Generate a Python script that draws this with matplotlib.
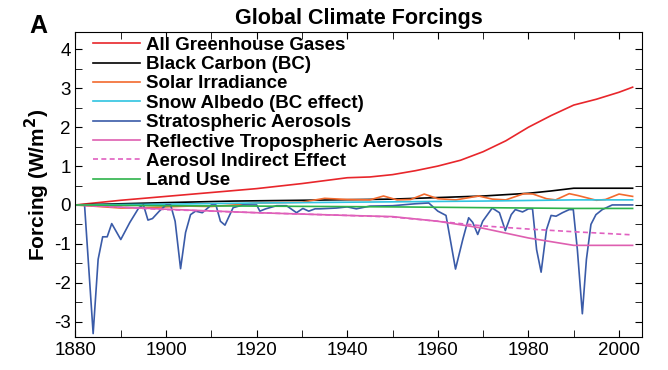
import matplotlib.pyplot as plt
from matplotlib.ticker import MultipleLocator

plt.rcParams['font.family'] = ['Liberation Sans', 'DejaVu Sans']
plt.rcParams['axes.unicode_minus'] = False

# ---- data ----
ghg_years = [1880, 1890, 1900, 1910, 1920, 1930, 1940, 1945, 1950, 1955, 1960, 1965, 1970,
             1975, 1980, 1985, 1990, 1995, 2000, 2003]
ghg_vals = [0.0, 0.12, 0.22, 0.32, 0.42, 0.55, 0.70, 0.72, 0.78, 0.88, 1.0, 1.15, 1.37,
            1.65, 2.0, 2.3, 2.57, 2.72, 2.9, 3.03]

bc_years = [1880, 1900, 1915, 1930, 1950, 1960, 1970, 1980, 1985, 1990, 2003]
bc_vals = [0.0, 0.06, 0.10, 0.12, 0.15, 0.19, 0.23, 0.30, 0.36, 0.43, 0.43]

sol_years = [1880, 1885, 1890, 1895, 1900, 1905, 1910, 1915, 1920, 1925, 1930, 1935, 1940,
             1945, 1948, 1951, 1954, 1957, 1960, 1964, 1969, 1972, 1975, 1979, 1981, 1984,
             1986, 1989, 1991, 1995, 1997, 2000, 2003]
sol_vals = [0.0, -0.04, -0.08, -0.07, -0.05, -0.03, -0.04, 0.0, 0.05, 0.06, 0.07, 0.17, 0.14,
            0.13, 0.23, 0.13, 0.14, 0.28, 0.16, 0.13, 0.23, 0.15, 0.13, 0.29, 0.28, 0.16,
            0.13, 0.29, 0.24, 0.12, 0.14, 0.28, 0.22]

snow_years = [1880, 1900, 1920, 1950, 1970, 1990, 2003]
snow_vals = [0.0, 0.02, 0.05, 0.08, 0.10, 0.13, 0.13]

land_years = [1880, 1900, 1920, 1950, 1970, 1990, 2003]
land_vals = [0.0, -0.02, -0.03, -0.05, -0.07, -0.09, -0.09]

strat_years = [1880, 1882, 1883.9, 1885, 1886, 1887, 1888, 1890, 1892, 1894, 1895, 1896, 1897,
               1898.5, 1900, 1901, 1902, 1903.2, 1904.3, 1905.4, 1906.5, 1908, 1909.3, 1910,
               1911, 1912, 1913, 1914.8, 1917, 1920, 1920.7, 1922, 1924.4, 1926.6, 1928.8,
               1930.2, 1931.5, 1932.9, 1934, 1937.6, 1940, 1942, 1945, 1950, 1955, 1958,
               1960, 1961.8, 1963.9, 1965.5, 1966.8, 1967.7, 1968.8, 1969.9, 1972, 1973.6,
               1974.9, 1976.2, 1977.1, 1978.7, 1980, 1980.9, 1981.8, 1982.8, 1984, 1985,
               1986.1, 1987.5, 1989, 1989.9, 1990.8, 1991.9, 1992.8, 1993.8, 1994.9, 1996.3,
               1998.5, 2003]
strat_vals = [0.0, 0.0, -3.31, -1.4, -0.82, -0.82, -0.48, -0.89, -0.45, -0.07, 0.0, -0.39, -0.35,
              -0.16, 0.0, 0.0, -0.42, -1.64, -0.71, -0.25, -0.16, -0.2, -0.07, 0.0,
              0.0, -0.42, -0.52, -0.07, 0.0, 0.0, -0.16, -0.1, -0.02, -0.02, -0.2,
              -0.09, -0.16, -0.1, -0.1, -0.08, -0.05, -0.1, -0.03, -0.02, 0.03, 0.05,
              -0.16, -0.27, -1.65, -0.89, -0.33, -0.45, -0.76, -0.42, -0.08, -0.2,
              -0.66, -0.25, -0.12, -0.18, -0.1, -0.1, -1.15, -1.73, -0.63, -0.27,
              -0.29, -0.2, -0.12, -0.12, -1.15, -2.8, -1.4, -0.5, -0.25, -0.12,
              0.0, 0.0]

trop_years = [1880, 1900, 1920, 1940, 1950, 1960, 1970, 1980, 1990, 2003]
trop_vals = [0.0, -0.11, -0.2, -0.27, -0.3, -0.42, -0.6, -0.85, -1.04, -1.04]

aie_years = [1880, 1900, 1920, 1940, 1950, 1960, 1970, 1980, 1990, 2003]
aie_vals = [0.0, -0.12, -0.2, -0.27, -0.31, -0.42, -0.54, -0.62, -0.69, -0.77]

# ---- plot ----
fig = plt.figure(figsize=(6.68, 3.70), dpi=100)
ax = fig.add_axes([0.113, 0.089, 0.8476, 0.8245])

lw = 1.2
ax.plot(ghg_years, ghg_vals, color='#e8262b', lw=lw, label='All Greenhouse Gases')
ax.plot(bc_years, bc_vals, color='black', lw=lw, label='Black Carbon (BC)')
ax.plot(sol_years, sol_vals, color='#f26a2e', lw=lw, label='Solar Irradiance')
ax.plot(snow_years, snow_vals, color='#2fc3e0', lw=lw, label='Snow Albedo (BC effect)')
ax.plot(strat_years, strat_vals, color='#3a5ba8', lw=lw, label='Stratospheric Aerosols')
ax.plot(trop_years, trop_vals, color='#de5fb0', lw=lw, label='Reflective Tropospheric Aerosols')
ax.plot(aie_years, aie_vals, color='#e060c0', lw=lw, ls=(0, (3, 2)), label='Aerosol Indirect Effect')
ax.plot(land_years, land_vals, color='#2db34a', lw=lw, label='Land Use')

ax.set_xlim(1880, 2005)
ax.set_ylim(-3.4, 4.45)
ax.xaxis.set_major_locator(MultipleLocator(20))
ax.xaxis.set_minor_locator(MultipleLocator(10))
ax.yaxis.set_major_locator(MultipleLocator(1))
ax.yaxis.set_minor_locator(MultipleLocator(0.5))
ax.tick_params(which='both', direction='in', top=True, right=True, labelsize=13.5)
ax.tick_params(which='major', length=5)
ax.tick_params(which='minor', length=5)

ax.set_ylabel('Forcing (W/m$^\\mathbf{2}$)', fontsize=15, fontweight='bold', labelpad=1)
ax.set_title('Global Climate Forcings', fontsize=15.5, fontweight='bold', pad=6)
fig.text(0.044, 0.91, 'A', fontsize=18, fontweight='bold')

leg = ax.legend(loc='upper left', frameon=False, prop={'weight': 'bold', 'size': 13.5},
                handlelength=2.5, handletextpad=0.3, labelspacing=0.12,
                borderaxespad=0.0, borderpad=0.0, bbox_to_anchor=(0.031, 0.985))

fig.savefig('out.png', dpi=100)
